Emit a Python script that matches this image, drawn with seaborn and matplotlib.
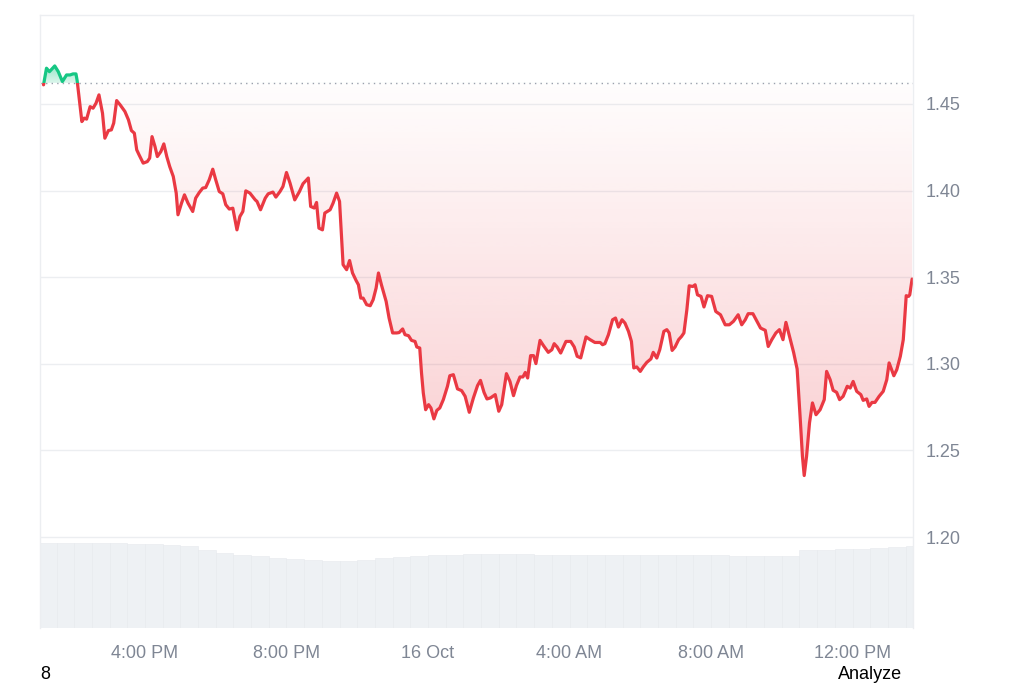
import numpy as np
import pandas as pd
import matplotlib
matplotlib.use("Agg")
import matplotlib.pyplot as plt
import matplotlib.dates as mdates
from matplotlib.colors import to_rgb
from matplotlib.patches import Rectangle
import seaborn as sns


# === Data ===
START = pd.Timestamp("2024-10-15 13:00")

# minutes after 13:00 on 15 Oct
minutes = [
    8, 13, 18, 27, 33, 40, 47, 53, 58, 63,
    65, 73, 77, 81, 87, 92, 97, 102, 108, 112,
    118, 123, 127, 132, 138, 146, 152, 157, 162, 166,
    170, 177, 184, 188, 192, 197, 201, 207, 212, 217,
    222, 228, 233, 236, 242, 247, 253, 261, 266, 272,
    278, 283, 289, 295, 300, 306, 312, 317, 323, 329,
    336, 341, 346, 351, 358, 367, 370, 376, 384, 389,
    397, 402, 409, 414, 420, 426, 434, 442, 448, 457,
    461, 467, 471, 475, 481, 485, 494, 499, 505, 510,
    514, 516, 522, 527, 532, 538, 542, 546, 550, 556,
    562, 567, 572, 576, 581, 589, 594, 600, 607, 611,
    617, 621, 627, 632, 638, 641, 646, 649, 652, 656,
    661, 665, 670, 675, 680, 686, 693, 697, 703, 710,
    717, 723, 730, 737, 744, 749, 755, 760, 766, 774,
    780, 785, 793, 799, 805, 810, 816, 821, 825, 829,
    834, 839, 843, 850, 856, 864, 870, 874, 879, 885,
    894, 902, 908, 913, 919, 928, 935, 943, 952, 956,
    960, 966, 973, 978, 983, 989, 994, 1000, 1005, 1009,
    1014, 1020, 1025, 1031, 1038, 1042, 1048, 1053, 1060, 1065,
    1069, 1074, 1079, 1085, 1090, 1094, 1099, 1103, 1109, 1113,
    1117, 1123, 1128, 1134, 1141, 1148, 1156, 1164, 1171, 1178,
    1186, 1192, 1198, 1203, 1211, 1218, 1224, 1232, 1237, 1243,
    1250, 1256, 1262, 1267, 1273, 1280, 1286, 1291, 1295, 1298,
    1302, 1307, 1312, 1318, 1325, 1332, 1336, 1342, 1347, 1353,
    1358, 1364, 1371, 1376, 1381, 1387, 1394, 1398, 1404, 1408,
    1413, 1418, 1425, 1432, 1438, 1442, 1450, 1455, 1461, 1466,
    1471, 1475, 1477, 1481,
]

prices = [
    1.4610, 1.4706, 1.4686, 1.4719, 1.4686, 1.4629, 1.4667, 1.4667, 1.4673, 1.4673,
    1.4634, 1.4398, 1.4418, 1.4412, 1.4484, 1.4475, 1.4504, 1.4552, 1.4446, 1.4302,
    1.4346, 1.4350, 1.4389, 1.4519, 1.4494, 1.4456, 1.4408, 1.4346, 1.4331, 1.4235,
    1.4206, 1.4158, 1.4167, 1.4187, 1.4311, 1.4254, 1.4196, 1.4225, 1.4269, 1.4196,
    1.4138, 1.4081, 1.3985, 1.3860, 1.3927, 1.3975, 1.3927, 1.3879, 1.3956, 1.3988,
    1.4014, 1.4017, 1.4062, 1.4123, 1.4062, 1.3994, 1.3981, 1.3918, 1.3893, 1.3898,
    1.3773, 1.3850, 1.3879, 1.3998, 1.3985, 1.3946, 1.3937, 1.3889, 1.3956, 1.3981,
    1.3991, 1.3962, 1.3994, 1.4023, 1.4104, 1.4043, 1.3946, 1.3994, 1.4039, 1.4072,
    1.3908, 1.3899, 1.3931, 1.3783, 1.3773, 1.3870, 1.3889, 1.3927, 1.3985, 1.3937,
    1.3697, 1.3572, 1.3543, 1.3596, 1.3524, 1.3481, 1.3456, 1.3379, 1.3379, 1.3341,
    1.3335, 1.3370, 1.3437, 1.3524, 1.3456, 1.3360, 1.3264, 1.3178, 1.3178, 1.3180,
    1.3201, 1.3168, 1.3162, 1.3135, 1.3129, 1.3097, 1.3091, 1.2947, 1.2832, 1.2735,
    1.2764, 1.2745, 1.2682, 1.2731, 1.2745, 1.2793, 1.2870, 1.2931, 1.2937, 1.2855,
    1.2845, 1.2812, 1.2720, 1.2803, 1.2874, 1.2904, 1.2835, 1.2797, 1.2803, 1.2822,
    1.2726, 1.2764, 1.2943, 1.2898, 1.2816, 1.2874, 1.2924, 1.2924, 1.2950, 1.2918,
    1.3047, 1.3047, 1.3001, 1.3135, 1.3104, 1.3066, 1.3081, 1.3116, 1.3097, 1.3062,
    1.3129, 1.3129, 1.3097, 1.3043, 1.3034, 1.3155, 1.3139, 1.3123, 1.3123, 1.3110,
    1.3116, 1.3168, 1.3254, 1.3264, 1.3212, 1.3254, 1.3235, 1.3187, 1.3129, 1.2976,
    1.2982, 1.2956, 1.2982, 1.3008, 1.3028, 1.3066, 1.3033, 1.3081, 1.3187, 1.3197,
    1.3178, 1.3077, 1.3097, 1.3139, 1.3158, 1.3178, 1.3312, 1.3450, 1.3446, 1.3456,
    1.3398, 1.3389, 1.3328, 1.3393, 1.3389, 1.3302, 1.3283, 1.3225, 1.3225, 1.3245,
    1.3283, 1.3225, 1.3254, 1.3289, 1.3289, 1.3245, 1.3206, 1.3193, 1.3100, 1.3139,
    1.3178, 1.3197, 1.3139, 1.3239, 1.3158, 1.3066, 1.2970, 1.2697, 1.2466, 1.2355,
    1.2466, 1.2659, 1.2774, 1.2706, 1.2735, 1.2793, 1.2956, 1.2908, 1.2847, 1.2835,
    1.2793, 1.2812, 1.2870, 1.2860, 1.2898, 1.2841, 1.2822, 1.2789, 1.2797, 1.2754,
    1.2777, 1.2777, 1.2812, 1.2841, 1.2908, 1.3005, 1.2931, 1.2966, 1.3043, 1.3139,
    1.3393, 1.3389, 1.3398, 1.3489,
]

base_price = 1.4621  # dotted reference line (open price)

# 30 minute volume bars, arbitrary units
volume = [
    42.5, 42.5, 42.5, 42.5, 42.5, 42.0, 42.0, 41.5, 41.0, 39.0,
    37.5, 36.5, 36.0, 35.0, 34.5, 34.0, 33.5, 33.5, 34.0, 35.0,
    35.5, 36.0, 36.5, 36.5, 37.0, 37.0, 37.0, 37.0, 36.5, 36.5,
    36.5, 36.5, 36.5, 36.5, 36.5, 36.5, 36.5, 36.5, 36.5, 36.0,
    36.0, 36.0, 36.0, 39.0, 39.0, 39.5, 39.5, 40.0, 40.5, 41.0,
]

tick_times = ["2024-10-15 16:00", "2024-10-15 20:00", "2024-10-16 00:00",
              "2024-10-16 04:00", "2024-10-16 08:00", "2024-10-16 12:00"]
tick_labels = ["4:00 PM", "8:00 PM", "16 Oct", "4:00 AM", "8:00 AM", "12:00 PM"]
price_ticks = [1.20, 1.25, 1.30, 1.35, 1.40, 1.45]

RED = "#ea3943"
GREEN = "#16c784"
TEXT = "#7f8694"


def gradient(color, a_bottom, a_top, n=256):
    """vertical RGBA ramp, row 0 at the bottom"""
    arr = np.zeros((n, 1, 4))
    arr[..., :3] = to_rgb(color)
    arr[:, 0, 3] = np.linspace(a_bottom, a_top, n)
    return arr


# === Plot ===
sns.set_style("white")
plt.rcParams["font.family"] = ["Liberation Sans", "DejaVu Sans"]

df = pd.DataFrame({
    "time": START + pd.to_timedelta(minutes, unit="min"),
    "price": prices,
})
vol_times = pd.date_range(START, periods=len(volume), freq="30min")

fig = plt.figure(figsize=(10.24, 6.83), dpi=100)
ax = fig.add_axes([40 / 1024, 1 - 628 / 683, 873 / 1024, 613 / 683])
vax = ax.twinx()

# volume underneath
vax.bar(vol_times, volume, width=1.0 / 48, align="edge",
        color="#eef1f4", edgecolor="#e6e9ed", linewidth=0.4)
vax.set_ylim(0, 306.5)
vax.set_yticks([])
for s in vax.spines.values():
    s.set_visible(False)
ax.set_zorder(vax.get_zorder() + 1)
ax.patch.set_visible(False)

xlim = (df["time"].iloc[0] - pd.Timedelta(minutes=6),
        df["time"].iloc[-1] + pd.Timedelta(minutes=1.5))
ylim = (1.1475, 1.5013)

# price line, red below the open, green above
sns.lineplot(data=df, x="time", y="price", ax=ax, color=RED, linewidth=2.3)
sns.lineplot(data=df, x="time", y="price", ax=ax, color=GREEN, linewidth=2.3)
red_line, green_line = ax.lines[0], ax.lines[1]
for ln in (red_line, green_line):
    ln.set_solid_joinstyle("round")
    ln.set_solid_capstyle("round")

x0, x1 = mdates.date2num(xlim[0]), mdates.date2num(xlim[1])
red_line.set_clip_path(Rectangle((x0, ylim[0]), x1 - x0, base_price - ylim[0],
                                 transform=ax.transData))
green_line.set_clip_path(Rectangle((x0, base_price), x1 - x0, ylim[1] - base_price,
                                   transform=ax.transData))

# gradient area between line and open price
fb = ax.fill_between(df["time"], df["price"], base_price, color="none", linewidth=0)
clip = fb.get_paths()[0]
im_red = ax.imshow(gradient(RED, 0.26, 0.01), extent=[x0, x1, 1.225, base_price],
                   aspect="auto", origin="lower", interpolation="bilinear", zorder=1)
im_red.set_clip_path(clip, transform=ax.transData)
im_green = ax.imshow(gradient(GREEN, 0.15, 0.5), extent=[x0, x1, base_price, 1.474],
                     aspect="auto", origin="lower", interpolation="bilinear", zorder=1)
im_green.set_clip_path(clip, transform=ax.transData)

ax.axhline(base_price, color="#9aa1ad", linestyle=(0, (1, 3)), linewidth=1.0, zorder=1.5)

ax.set_xlim(xlim)
ax.set_ylim(ylim)
vax.set_xlim(xlim)

# axes cosmetics
ax.set_xticks(pd.to_datetime(tick_times))
ax.set_xticklabels(tick_labels)
ax.set_yticks(price_ticks)
ax.set_yticklabels([f"{v:.2f}" for v in price_ticks])
ax.yaxis.tick_right()
ax.tick_params(axis="x", length=0, pad=12, labelsize=13, labelcolor=TEXT)
ax.tick_params(axis="y", length=0, pad=9, labelsize=13, labelcolor=TEXT)
ax.set_xlabel("")
ax.set_ylabel("")
ax.yaxis.grid(True, color="#eceef1", linewidth=1.0)
ax.xaxis.grid(False)
ax.set_axisbelow(True)
for name, s in ax.spines.items():
    s.set_color("#eceef1")
    s.set_linewidth(1.0)
ax.spines["bottom"].set_visible(False)

fig.text(40 / 1024, 0.006, "8", fontsize=13, color="black", va="baseline")
fig.text(838 / 1024, 0.006, "Analyze", fontsize=13, color="black", va="baseline")

fig.savefig("out.png", dpi=100)
plt.close(fig)
